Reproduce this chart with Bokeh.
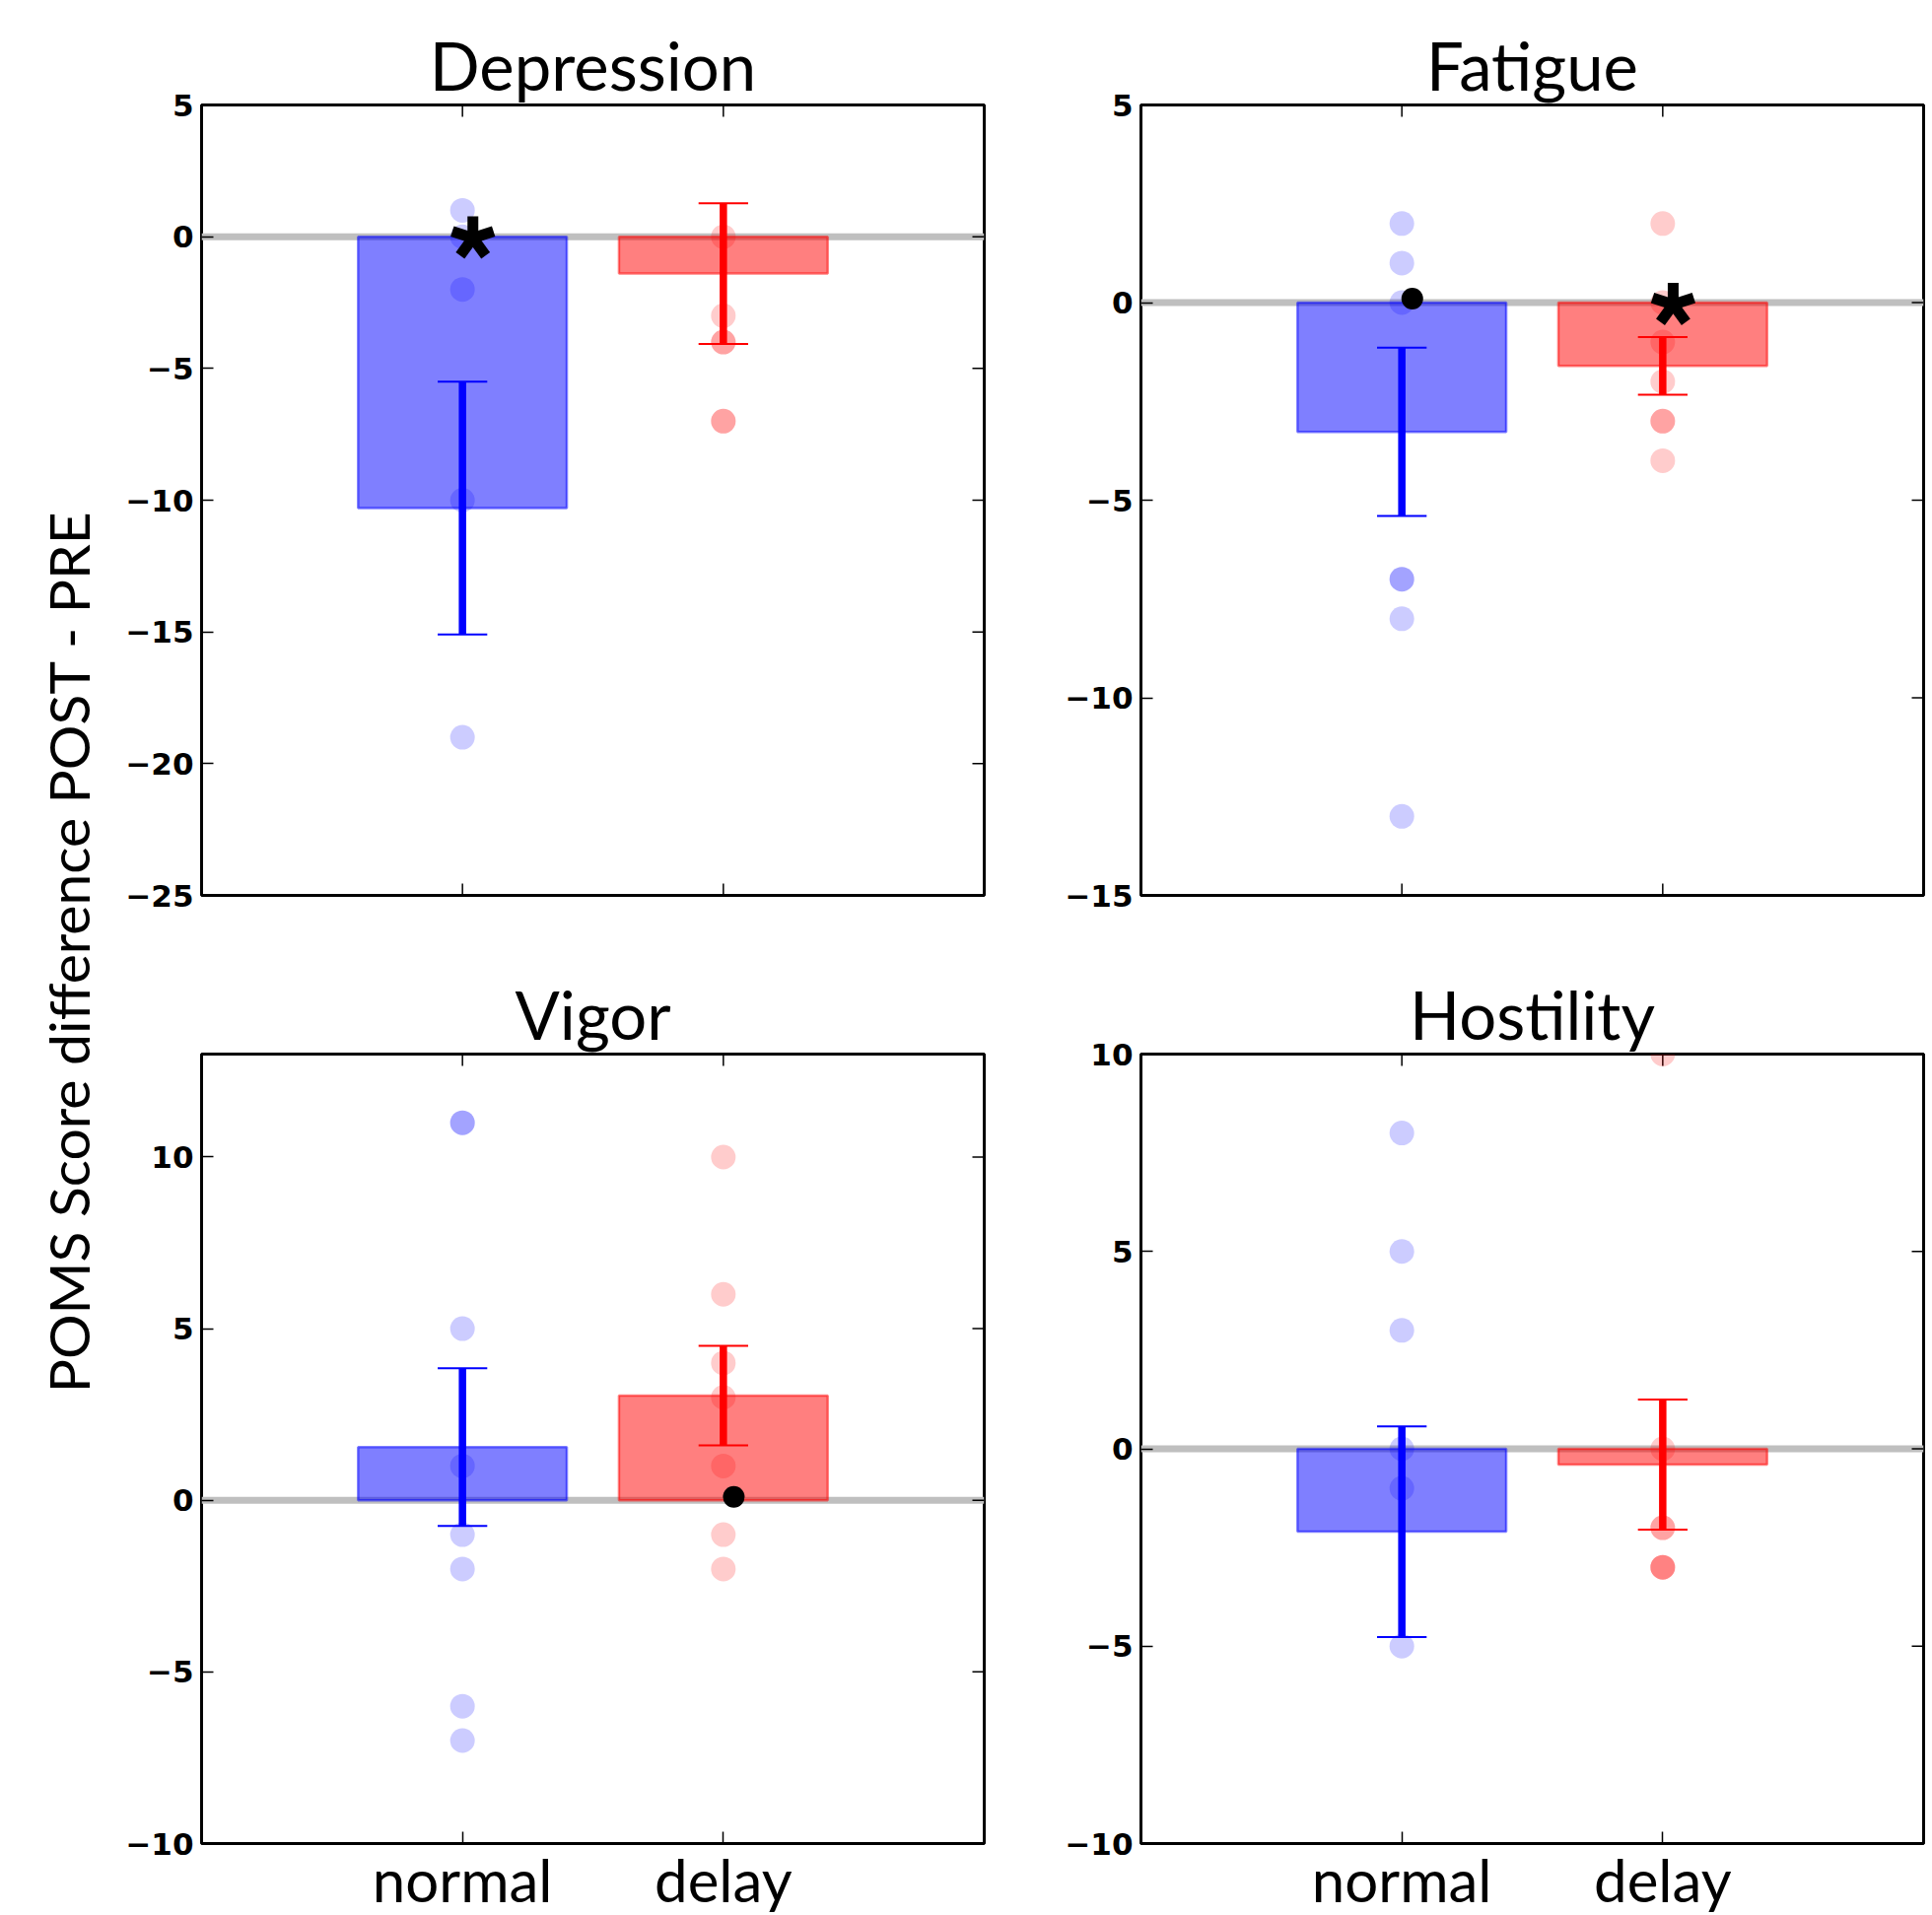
import numpy as np
from bokeh.plotting import figure
from bokeh.models import Range1d, FixedTicker, Label, Span
from bokeh.layouts import row, column
from bokeh.embed import file_html
from bokeh.resources import INLINE

# ---------------- data ----------------
groups = ["normal", "delay"]
panel_titles = ["Depression", "Fatigue", "Vigor", "Hostility"]
y_label = "POMS Score difference POST - PRE"

dep_means = [-10.3, -1.4]
dep_sems = [4.8, 2.67]
dep_normal_pts = [1, 0, -2, -10, -19]
dep_delay_pts = [0, -3, -4, -4, -7, -7]

fat_means = [-3.27, -1.6]
fat_sems = [2.13, 0.73]
fat_normal_pts = [2, 1, 0, -7, -7, -8, -13]
fat_delay_pts = [2, 0, -1, -2, -3, -3, -4]

vig_means = [1.55, 3.05]
vig_sems = [2.3, 1.45]
vig_normal_pts = [11, 11, 5, 1, -1, -2, -6, -7]
vig_delay_pts = [10, 6, 4, 3, 1, -1, -2]

hos_means = [-2.1, -0.4]
hos_sems = [2.67, 1.65]
hos_normal_pts = [8, 5, 3, 0, -1, -5]
hos_delay_pts = [10, 0, -2, -2, -3, -3, -3]

dep_ylim = [-25, 5]
fat_ylim = [-15, 5]
vig_ylim = [-10, 13]
hos_ylim = [-10, 10]

dep_ticks = [-25, -20, -15, -10, -5, 0, 5]
fat_ticks = [-15, -10, -5, 0, 5]
vig_ticks = [-10, -5, 0, 5, 10]
hos_ticks = [-10, -5, 0, 5, 10]

# significance markers: asterisk and dot (group, value)
star_marks = {"Depression": ("normal", -0.05), "Fatigue": ("delay", -0.05)}
dot_marks = {"Fatigue": ("normal", 0.1), "Vigor": ("delay", 0.1)}

# ---------------- style ----------------
BLUE = "#0000ff"
RED = "#ff0000"
TICK_FONT = "DejaVu Sans"
TEXT_FONT = "Lato"
FRAME_W = 794
TICK_LEN = 12


def tick_label(v):
    return str(v).replace("-", "\u2212")


def panel(title, means, sems, pts_n, pts_d, ylim, ticks, show_x,
          bl, br, bt, bb, fh):
    p = figure(frame_width=FRAME_W, frame_height=fh,
               x_range=Range1d(0, 3), y_range=Range1d(ylim[0], ylim[1]),
               output_backend="svg", toolbar_location=None,
               min_border_left=bl, min_border_right=br,
               min_border_top=bt, min_border_bottom=bb)
    p.xgrid.visible = False
    p.ygrid.visible = False
    p.outline_line_color = "black"
    p.outline_line_width = 3
    p.outline_line_alpha = 1.0
    p.background_fill_color = "white"
    p.border_fill_color = "white"

    xs = np.arange(1, len(groups) + 1)

    # left axis with labels, ticks inside
    ya = p.yaxis[0]
    ya.ticker = FixedTicker(ticks=ticks)
    ya.major_label_overrides = {v: tick_label(v) for v in ticks}
    ya.axis_line_color = None
    ya.major_tick_in = TICK_LEN
    ya.major_tick_out = 0
    ya.major_tick_line_width = 1.5
    ya.minor_tick_line_color = None
    ya.major_label_text_font = TICK_FONT
    ya.major_label_text_font_style = "bold"
    ya.major_label_text_font_size = "31px"
    ya.major_label_text_color = "black"
    ya.major_label_standoff = 8

    xa = p.xaxis[0]
    if show_x:
        xa.ticker = FixedTicker(ticks=list(xs))
        xa.major_label_overrides = {int(x): g for x, g in zip(xs, groups)}
        xa.axis_line_color = None
        xa.major_tick_in = TICK_LEN
        xa.major_tick_out = 0
        xa.major_tick_line_width = 1.5
        xa.minor_tick_line_color = None
        xa.major_label_text_font = TEXT_FONT
        xa.major_label_text_font_size = "60px"
        xa.major_label_text_color = "black"
        xa.major_label_standoff = 0
    else:
        xa.visible = False
        # inside ticks on bottom edge
        p.ray(x=xs, y=[ylim[0]] * len(xs), length=TICK_LEN, length_units="screen",
              angle=np.pi / 2, line_color="black", line_width=1.5)
    # inside ticks on top edge
    p.ray(x=xs, y=[ylim[1]] * len(xs), length=TICK_LEN, length_units="screen",
          angle=-np.pi / 2, line_color="black", line_width=1.5)
    # inside ticks on right edge
    p.ray(x=[3] * len(ticks), y=ticks, length=TICK_LEN, length_units="screen",
          angle=np.pi, line_color="black", line_width=1.5)

    # zero line
    p.add_layout(Span(location=0, dimension="width", line_color="#bfbfbf",
                      line_width=7, level="underlay"))

    # individual points
    p.scatter(x=[xs[0]] * len(pts_n), y=pts_n, size=25, fill_color=BLUE,
              fill_alpha=0.2, line_color=None)
    p.scatter(x=[xs[1]] * len(pts_d), y=pts_d, size=25, fill_color=RED,
              fill_alpha=0.2, line_color=None)

    # bars
    cols = [BLUE, RED]
    p.vbar(x=xs, top=means, bottom=0, width=0.8, fill_color=cols,
           fill_alpha=0.5, line_color=cols, line_alpha=0.5, line_width=2.5)

    # error bars
    m = np.array(means)
    s = np.array(sems)
    lo = m - s
    hi = m + s
    p.segment(x0=xs, y0=lo, x1=xs, y1=hi, line_color=cols, line_width=7.5)
    cap = 0.095
    p.segment(x0=xs - cap, y0=lo, x1=xs + cap, y1=lo, line_color=cols, line_width=2)
    p.segment(x0=xs - cap, y0=hi, x1=xs + cap, y1=hi, line_color=cols, line_width=2)

    off = 0.04
    if title in dot_marks:
        g, yv = dot_marks[title]
        p.scatter(x=[groups.index(g) + 1 + off], y=[yv], size=22,
                  fill_color="black", line_color=None)
    if title in star_marks:
        g, yv = star_marks[title]
        angs = np.deg2rad([90, 162, 234, 306, 18])
        p.ray(x=[groups.index(g) + 1 + off] * 5, y=[yv] * 5, length=22,
              length_units="screen", angle=angs, line_color="black",
              line_width=11)

    # title
    p.title.text = title
    p.title.align = "center"
    p.title.text_font = TEXT_FONT
    p.title.text_font_size = "67px"
    p.title.text_font_style = "normal"
    p.title.text_color = "black"
    p.title.standoff = 1
    return p


tl = panel(panel_titles[0], dep_means, dep_sems, dep_normal_pts, dep_delay_pts,
           dep_ylim, dep_ticks, False, 86, 73, 106, 63, 802)
tr = panel(panel_titles[1], fat_means, fat_sems, fat_normal_pts, fat_delay_pts,
           fat_ylim, fat_ticks, False, 86, 4, 106, 63, 802)
bl = panel(panel_titles[2], vig_means, vig_sems, vig_normal_pts, vig_delay_pts,
           vig_ylim, vig_ticks, True, 86, 73, 98, 72, 801)
br = panel(panel_titles[3], hos_means, hos_sems, hos_normal_pts, hos_delay_pts,
           hos_ylim, hos_ticks, True, 86, 4, 98, 72, 801)

TOTAL_H = 1942
YL_W = 118
yl = figure(width=YL_W, height=TOTAL_H, x_range=Range1d(0, YL_W),
            y_range=Range1d(0, TOTAL_H), output_backend="svg",
            toolbar_location=None, min_border=0)
yl.axis.visible = False
yl.xgrid.visible = False
yl.ygrid.visible = False
yl.outline_line_color = None
yl.add_layout(Label(x=68, y=TOTAL_H - 965, text=y_label, angle=np.pi / 2,
                    text_font=TEXT_FONT, text_font_size="57px",
                    text_align="center", text_baseline="middle",
                    text_color="black"))

layout = row(yl, column(row(tl, tr), row(bl, br)))

with open("out.html", "w") as f:
    f.write(file_html(layout, INLINE))
